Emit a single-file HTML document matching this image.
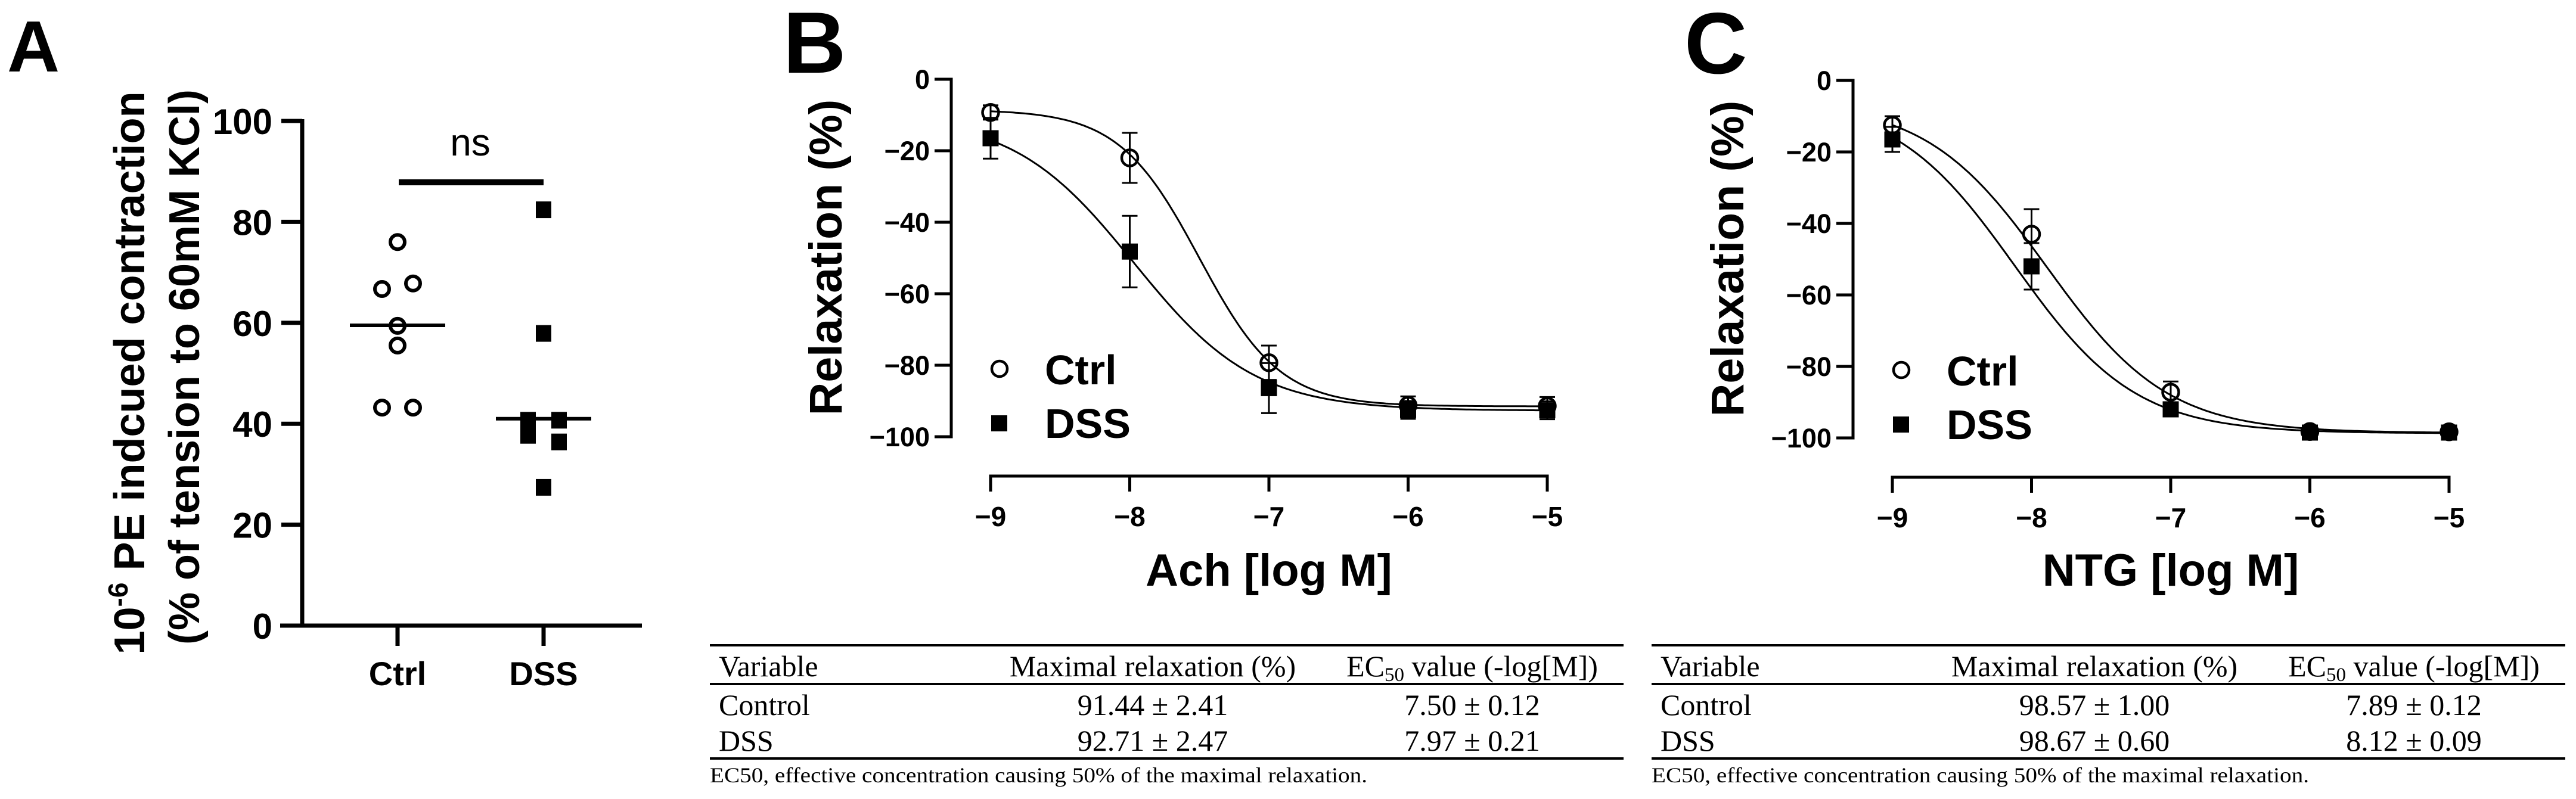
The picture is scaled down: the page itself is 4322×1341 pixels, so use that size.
<!DOCTYPE html>
<html><head><meta charset="utf-8"><style>
html,body{margin:0;padding:0;background:#fff}
svg{display:block}
.b{font-family:"Liberation Sans",Arial,sans-serif;font-weight:bold}
.s{font-family:"Liberation Serif","Times New Roman",serif}
</style></head><body>
<svg id="fig" width="4322" height="1341" viewBox="0 0 4322 1341" xmlns="http://www.w3.org/2000/svg">
<rect width="4322" height="1341" fill="#fff"/>
<text class="b" x="12" y="120" font-size="122">A</text>
<text class="b" x="1314" y="122" font-size="146">B</text>
<text class="b" x="2826" y="123" font-size="146">C</text>
<g id="A"></g>
<g id="B"></g>
<g id="C"></g>
<g id="TB"></g>
<g id="TC"></g>
</svg>
<script>
// Panel A data
const aCategories = ["Ctrl", "DSS"];
const aCtrlValues = [76, 66.7, 67.8, 59.4, 55.5, 43.2, 43.2];
const aDssValues = [82.4, 57.9, 40.7, 40.7, 37.7, 36.4, 27.4];
const aCtrlJitter = [0, -1, 1, 0, 0, -1, 1];
const aDssJitter = [0, 0, -1, 1, -1, 1, 0];
const aMedians = [59.5, 41];
const aTicks = [0, 20, 40, 60, 80, 100];
// Panel B data (Ach)
const xLogs = [-9, -8, -7, -6, -5];
const bCtrlMean = [-9.3, -22, -79.3, -91.2, -91.4];
const bCtrlErr = [2, 7, 4.8, 2.5, 2.5];
const bDssMean = [-16.5, -48.2, -86.4, -92.5, -92.6];
const bDssErr = [5.7, 10, 7, 2.5, 2.5];
const bCtrlFit = [-8.5, -91.5, -7.5, 1.5]; // top, bottom, logEC50, hill
const bDssFit = [-10, -92.7, -7.97, 1.0];
// Panel C data (NTG)
const cCtrlMean = [-12.5, -43, -87.2, -98.2, -98.3];
const cCtrlErr = [2.5, 7, 3, 1.5, 1.5];
const cDssMean = [-16.5, -52, -92, -98.5, -98.5];
const cDssErr = [3.5, 6.5, 2, 1.5, 1.5];
const cCtrlFit = [-5.8, -98.6, -7.89, 1.0];
const cDssFit = [-5, -98.7, -8.12, 1.0];
const yTicksBC = [0, -20, -40, -60, -80, -100];
// Tables
const tableHeaders = ["Variable", "Maximal relaxation (%)", "EC50 value (-log[M])"];
const tbRows = [["Control", "91.44 ± 2.41", "7.50 ± 0.12"], ["DSS", "92.71 ± 2.47", "7.97 ± 0.21"]];
const tcRows = [["Control", "98.57 ± 1.00", "7.89 ± 0.12"], ["DSS", "98.67 ± 0.60", "8.12 ± 0.09"]];
const footnote = "EC50, effective concentration causing 50% of the maximal relaxation.";

const NS = "http://www.w3.org/2000/svg";
function el(parent, tag, attrs, text) {
  const e = document.createElementNS(NS, tag);
  for (const k in attrs) e.setAttribute(k, attrs[k]);
  if (text !== undefined) e.textContent = text;
  parent.appendChild(e);
  return e;
}
function mk(parent, tag, attrs, name, text) {
  const e = el(parent, tag, attrs, text);
  
  
  return e;
}

// ---------- Panel A ----------
(function () {
  const g = document.getElementById('A');
  const yA = v => 1050 - v * 8.47;
  const xCat = i => [667, 912][i];
  mk(g, 'line', {x1: 507, y1: 200, x2: 507, y2: 1053, stroke: '#000', 'stroke-width': 7}, 'y-axis-line');
  mk(g, 'line', {x1: 470, y1: 1050, x2: 1077, y2: 1050, stroke: '#000', 'stroke-width': 7}, 'x-axis-line');
  aTicks.forEach(t => {
    mk(g, 'line', {x1: 472, y1: yA(t), x2: 507, y2: yA(t), stroke: '#000', 'stroke-width': 7}, 'y-tick');
    mk(g, 'text', {class: 'b', x: 457, y: yA(t) + 22, 'font-size': 60, 'text-anchor': 'end'}, 'y-tick-label', String(t));
  });
  aCategories.forEach((c, i) => {
    mk(g, 'line', {x1: xCat(i), y1: 1050, x2: xCat(i), y2: 1084, stroke: '#000', 'stroke-width': 7}, 'x-tick');
    mk(g, 'text', {class: 'b', x: xCat(i), y: 1150, 'font-size': 56, 'text-anchor': 'middle'}, 'x-tick-label', c);
  });
  const t1 = mk(g, 'text', {class: 'b', 'font-size': 72, 'text-anchor': 'middle', transform: 'translate(242,626) rotate(-90)'}, 'y-axis-title-line1');
  el(t1, 'tspan', {}, '10');
  el(t1, 'tspan', {dy: -28, 'font-size': 46}, '-6');
  el(t1, 'tspan', {dy: 28}, ' PE indcued contraction');
  mk(g, 'text', {class: 'b', 'font-size': 72, 'text-anchor': 'middle', transform: 'translate(334,616) rotate(-90)'}, 'y-axis-title-line2', '(% of tension to 60mM KCl)');
  // significance
  mk(g, 'line', {x1: 669, y1: 306, x2: 912, y2: 306, stroke: '#000', 'stroke-width': 10}, 'significance-bar');
  mk(g, 'text', {class: '', x: 789, y: 261, 'font-size': 64, 'text-anchor': 'middle', 'font-family': '"Liberation Sans",sans-serif'}, 'significance-label', 'ns');
  // medians
  aMedians.forEach((m, i) => {
    mk(g, 'line', {x1: xCat(i) - 80, y1: yA(m), x2: xCat(i) + 80, y2: yA(m), stroke: '#000', 'stroke-width': 6}, 'median-line-' + aCategories[i].toLowerCase());
  });
  aCtrlValues.forEach((v, i) => {
    mk(g, 'circle', {cx: xCat(0) + aCtrlJitter[i] * 26, cy: yA(v), r: 12, fill: 'none', stroke: '#000', 'stroke-width': 6}, 'ctrl-point');
  });
  aDssValues.forEach((v, i) => {
    mk(g, 'rect', {x: xCat(1) + aDssJitter[i] * 26 - 13, y: yA(v) - 14, width: 26, height: 28, fill: '#000'}, 'dss-point');
  });
})();

// ---------- Panels B & C ----------
function hill(p, x) { return p[1] + (p[0] - p[1]) / (1 + Math.pow(10, (x - p[2]) * p[3])); }
function drawCurvePanel(id, dx, dy, ctrlMean, ctrlErr, dssMean, dssErr, ctrlFit, dssFit, xTitle) {
  const g = document.getElementById(id);
  const X = v => 1662 + dx + (v + 9) * 233.5;
  const Y = v => 133 + dy - v * 6.0;
  mk(g, 'line', {x1: 1596 + dx, y1: Y(0) - 2.5, x2: 1596 + dx, y2: Y(-100) + 2.5, stroke: '#000', 'stroke-width': 5}, 'y-axis-line');
  yTicksBC.forEach(t => {
    mk(g, 'line', {x1: 1568 + dx, y1: Y(t), x2: 1596 + dx, y2: Y(t), stroke: '#000', 'stroke-width': 5}, 'y-tick');
    mk(g, 'text', {class: 'b', x: 1560 + dx, y: Y(t) + 16, 'font-size': 45, 'text-anchor': 'end'}, 'y-tick-label', t === 0 ? '0' : '\u2212' + Math.abs(t));
  });
  mk(g, 'line', {x1: X(-9) - 2.5, y1: 799 + dy, x2: X(-5) + 2.5, y2: 799 + dy, stroke: '#000', 'stroke-width': 5}, 'x-axis-line');
  xLogs.forEach(v => {
    mk(g, 'line', {x1: X(v), y1: 799 + dy, x2: X(v), y2: 825 + dy, stroke: '#000', 'stroke-width': 5}, 'x-tick');
    mk(g, 'text', {class: 'b', x: X(v), y: 883 + dy, 'font-size': 46, 'text-anchor': 'middle'}, 'x-tick-label', '\u2212' + Math.abs(v));
  });
  mk(g, 'text', {class: 'b', x: X(-7), y: 983, 'font-size': 76, 'text-anchor': 'middle'}, 'x-axis-title', xTitle);
  mk(g, 'text', {class: 'b', 'font-size': 77, 'text-anchor': 'middle', transform: 'translate(' + (1412 + dx) + ',' + (432 + dy) + ') rotate(-90)'}, 'y-axis-title', 'Relaxation (%)');
  // curves
  [[ctrlFit, 'ctrl-fit-curve'], [dssFit, 'dss-fit-curve']].forEach(([p, n]) => {
    let d = '';
    for (let x = -9; x <= -5.0001 + 0.02; x += 0.02) {
      const xx = Math.min(x, -5);
      d += (d ? 'L' : 'M') + X(xx).toFixed(1) + ',' + Y(hill(p, xx)).toFixed(1);
    }
    mk(g, 'path', {d: d, fill: 'none', stroke: '#000', 'stroke-width': 3}, n);
  });
  // error bars
  function errs(mean, err, n) {
    mean.forEach((m, i) => {
      const x = X(xLogs[i]);
      mk(g, 'line', {x1: x, y1: Y(m + err[i]), x2: x, y2: Y(m - err[i]), stroke: '#000', 'stroke-width': 3}, n + '-error-bar');
      mk(g, 'line', {x1: x - 13, y1: Y(m + err[i]), x2: x + 13, y2: Y(m + err[i]), stroke: '#000', 'stroke-width': 3}, n + '-error-cap');
      mk(g, 'line', {x1: x - 13, y1: Y(m - err[i]), x2: x + 13, y2: Y(m - err[i]), stroke: '#000', 'stroke-width': 3}, n + '-error-cap');
    });
  }
  errs(dssMean, dssErr, 'dss');
  errs(ctrlMean, ctrlErr, 'ctrl');
  dssMean.forEach((m, i) => {
    mk(g, 'rect', {x: X(xLogs[i]) - 13.5, y: Y(m) - 13.5, width: 27, height: 27, fill: '#000'}, 'dss-point');
  });
  ctrlMean.forEach((m, i) => {
    mk(g, 'circle', {cx: X(xLogs[i]), cy: Y(m), r: 13.5, fill: 'none', stroke: '#000', 'stroke-width': 4.5}, 'ctrl-point');
  });
  // legend
  mk(g, 'circle', {cx: 1677 + dx, cy: 619 + dy, r: 13, fill: 'none', stroke: '#000', 'stroke-width': 4.5}, 'legend-ctrl-marker');
  mk(g, 'text', {class: 'b', x: 1753 + dx, y: 645 + dy, 'font-size': 70}, 'legend-ctrl-label', 'Ctrl');
  mk(g, 'rect', {x: 1663 + dx, y: 697 + dy, width: 27, height: 27, fill: '#000'}, 'legend-dss-marker');
  mk(g, 'text', {class: 'b', x: 1753 + dx, y: 735 + dy, 'font-size': 70}, 'legend-dss-label', 'DSS');
}
drawCurvePanel('B', 0, 0, bCtrlMean, bCtrlErr, bDssMean, bDssErr, bCtrlFit, bDssFit, 'Ach [log M]');
drawCurvePanel('C', 1513, 2, cCtrlMean, cCtrlErr, cDssMean, cDssErr, cCtrlFit, cDssFit, 'NTG [log M]');

// ---------- Tables ----------
function drawTable(id, x0, rows) {
  const g = document.getElementById(id);
  const w = 1533;
  mk(g, 'line', {x1: x0, y1: 1083, x2: x0 + w, y2: 1083, stroke: '#000', 'stroke-width': 4}, 'table-top-rule');
  mk(g, 'line', {x1: x0, y1: 1148, x2: x0 + w, y2: 1148, stroke: '#000', 'stroke-width': 4}, 'table-header-rule');
  mk(g, 'line', {x1: x0, y1: 1273, x2: x0 + w, y2: 1273, stroke: '#000', 'stroke-width': 4}, 'table-bottom-rule');
  mk(g, 'text', {class: 's', x: x0 + 15, y: 1135, 'font-size': 50}, 'header-variable', tableHeaders[0]);
  mk(g, 'text', {class: 's', x: x0 + 743, y: 1135, 'font-size': 50, 'text-anchor': 'middle'}, 'header-max-relaxation', tableHeaders[1]);
  const h3 = mk(g, 'text', {class: 's', x: x0 + 1279, y: 1135, 'font-size': 50, 'text-anchor': 'middle'}, 'header-ec50');
  el(h3, 'tspan', {}, 'EC');
  el(h3, 'tspan', {'font-size': 33, dy: 8}, '50');
  el(h3, 'tspan', {dy: -8}, ' value (-log[M])');
  rows.forEach((r, i) => {
    const y = 1200 + i * 60;
    mk(g, 'text', {class: 's', x: x0 + 15, y: y, 'font-size': 50}, 'row-label', r[0]);
    mk(g, 'text', {class: 's', x: x0 + 743, y: y, 'font-size': 50, 'text-anchor': 'middle'}, 'max-relaxation-value', r[1]);
    mk(g, 'text', {class: 's', x: x0 + 1279, y: y, 'font-size': 50, 'text-anchor': 'middle'}, 'ec50-value', r[2]);
  });
  mk(g, 'text', {class: 's', x: x0, y: 1313, 'font-size': 36, textLength: 1103, lengthAdjust: 'spacingAndGlyphs'}, 'table-footnote', footnote);
}
drawTable('TB', 1191, tbRows);
drawTable('TC', 2771, tcRows);
</script>
</body></html>
